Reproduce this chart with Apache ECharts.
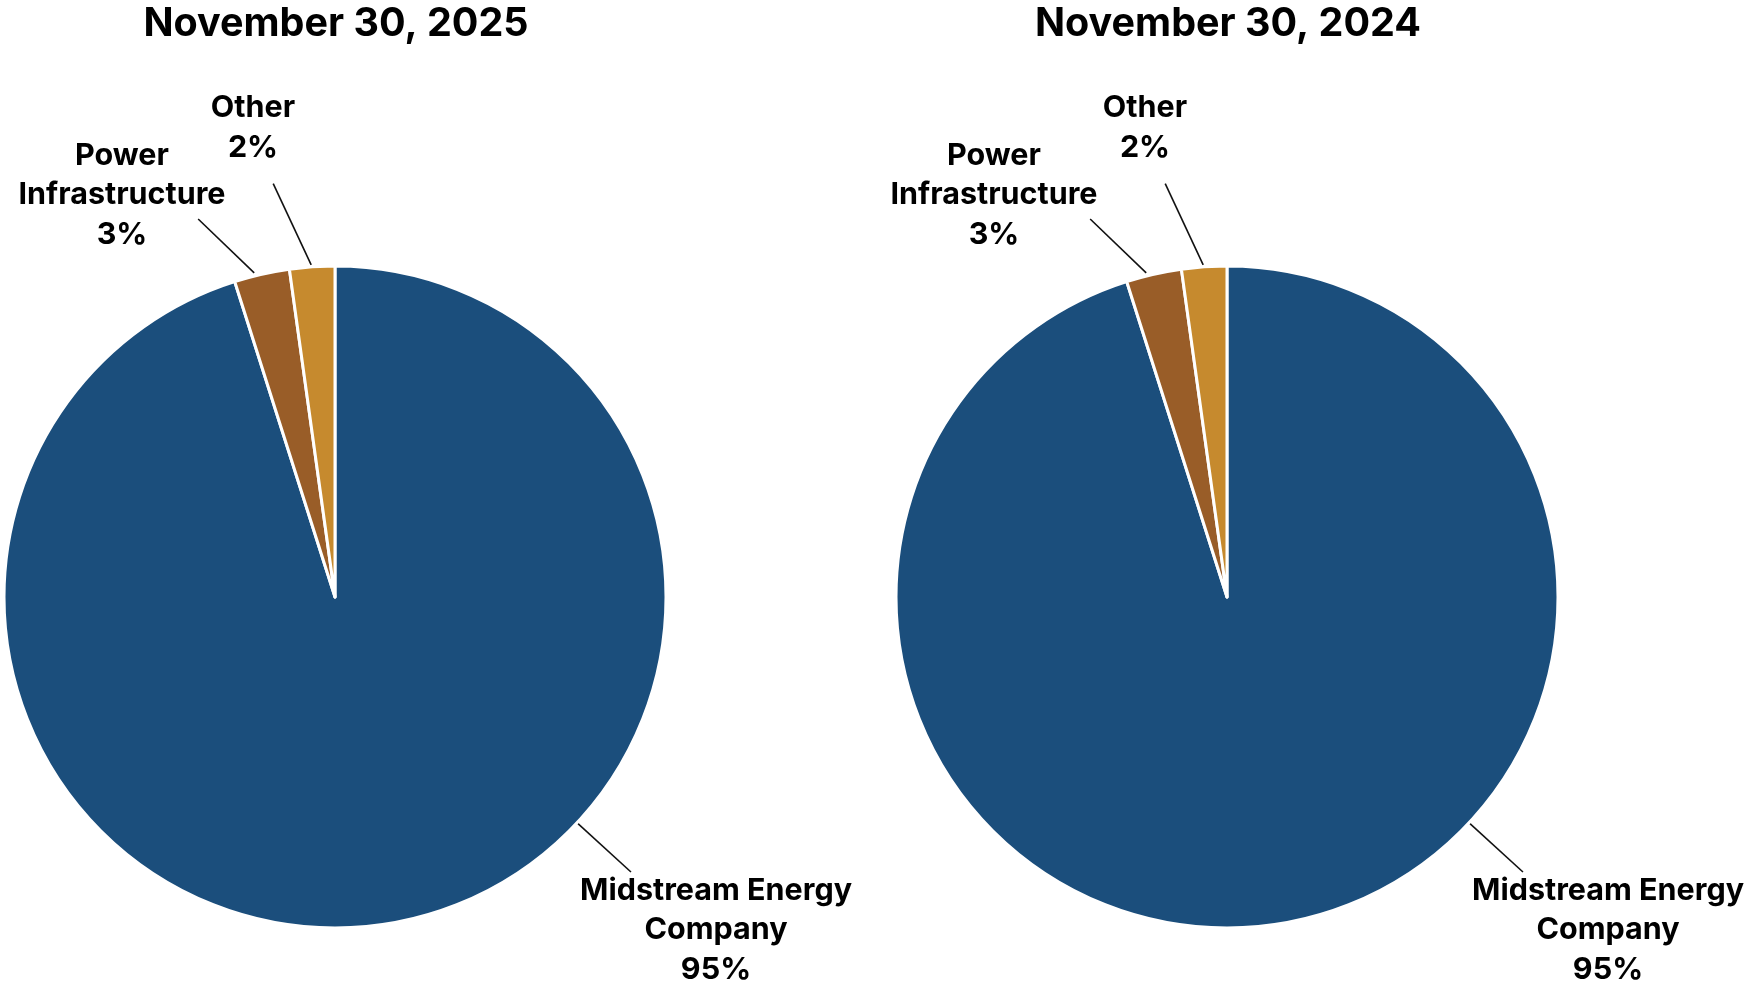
<!DOCTYPE html>
<html>
<head>
<meta charset="utf-8">
<script src="https://cdn.jsdelivr.net/npm/echarts@6/dist/echarts.min.js"></script>
<style>
html,body{margin:0;padding:0;background:#fff;}
#chart{width:1746px;height:990px;}
</style>
</head>
<body>
<div id="chart"></div>
<script>
// ---- data ----
const categories = ['Midstream Energy Company', 'Power Infrastructure', 'Other'];
const labelText = ['Midstream Energy\nCompany', 'Power\nInfrastructure', 'Other'];
const values2025 = [95.1, 2.7, 2.2];
const values2024 = [95.1, 2.7, 2.2];
const titles = ['November 30, 2025', 'November 30, 2024'];
const colors = ['#1b4e7c', '#995d28', '#c68a2e'];

// ---- layout ----
const centers = [[335, 597], [1227, 597]];
const R = 331;
// leader lines: start (angle clockwise from top, radius) -> end (angle, radius); label block offset from centre
const spots = [
  [
    { a0: 133, r0: 330, a1: 132.9, r1: 404, dx: 381, dy: 333 },
    { a0: -14, r0: 334, a1: -19.9, r1: 402, dx: -213, dy: -402 },
    { a0: -4.1, r0: 333, a1: -8.5, r1: 418, dx: -82, dy: -469 }
  ],
  [
    { a0: 133, r0: 330, a1: 132.9, r1: 404, dx: 381, dy: 333 },
    { a0: -14, r0: 334, a1: -19.9, r1: 402, dx: -233, dy: -402 },
    { a0: -4.1, r0: 333, a1: -8.5, r1: 418, dx: -82, dy: -469 }
  ]
];
function pt(c, a, r) {
  const t = a * Math.PI / 180;
  return [c[0] + r * Math.sin(t), c[1] - r * Math.cos(t)];
}

const chart = echarts.init(document.getElementById('chart'), null, {renderer: 'canvas'});
const FONT = 'Inter, "Noto Sans", sans-serif';

function makeSeries(idx, values) {
  const c = centers[idx];
  return {
    type: 'pie',
    center: c,
    radius: R,
    startAngle: 90,
    clockwise: true,
    percentPrecision: 0,
    animation: false,
    avoidLabelOverlap: false,
    itemStyle: { borderColor: '#ffffff', borderWidth: 3 },
    label: {
      show: true,
      position: 'outside',
      formatter: p => labelText[p.dataIndex] + '\n' + p.percent + '%',
      fontFamily: FONT,
      fontWeight: 'bold',
      fontSize: 30.5,
      lineHeight: 39.5,
      color: '#000',
      align: 'center'
    },
    labelLine: { show: true, length: 20, length2: 0, lineStyle: { color: '#111', width: 1.6 } },
    labelLayout: function (p) {
      const s = spots[idx][p.dataIndex];
      return {
        x: c[0] + s.dx,
        y: c[1] + s.dy,
        align: 'center',
        verticalAlign: 'middle',
        labelLinePoints: [pt(c, s.a0, s.r0), pt(c, s.a1, s.r1), pt(c, s.a1, s.r1)]
      };
    },
    emphasis: { disabled: true },
    data: categories.map((n, i) => ({ name: n, value: values[i], itemStyle: { color: colors[i] } }))
  };
}

chart.setOption({
  backgroundColor: '#ffffff',
  title: titles.map((t, i) => ({
    text: t,
    left: centers[i][0] - 4,
    top: -1,
    textAlign: 'center',
    textStyle: { fontFamily: FONT, fontWeight: 'bold', fontSize: 39.5, color: '#000' }
  })),
  series: [makeSeries(0, values2025), makeSeries(1, values2024)]
});
</script>
</body>
</html>
